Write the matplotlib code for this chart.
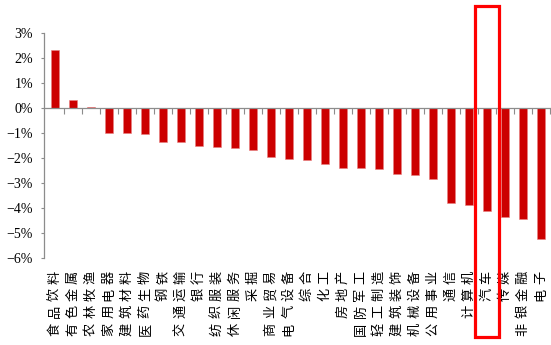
import matplotlib.pyplot as plt
import matplotlib.transforms as mtransforms
from matplotlib.patches import Rectangle
from matplotlib.ticker import FuncFormatter, FixedLocator

industries = ['食品饮料', '有色金属', '农林牧渔', '家用电器', '建筑材料', '医药生物', '钢铁',
              '交通运输', '银行', '纺织服装', '休闲服务', '采掘', '商业贸易', '电气设备',
              '综合', '化工', '房地产', '国防军工', '轻工制造', '建筑装饰', '机械设备',
              '公用事业', '通信', '计算机', '汽车', '传媒', '非银金融', '电子']
changes = [2.33, 0.32, 0.05, -0.99, -1.0, -1.05, -1.35, -1.35, -1.5, -1.57, -1.61, -1.67,
           -1.97, -2.03, -2.08, -2.23, -2.39, -2.39, -2.43, -2.63, -2.68, -2.83, -3.79,
           -3.89, -4.13, -4.35, -4.45, -5.25]
highlight = '汽车'

fig = plt.figure(figsize=(5.51, 3.45), dpi=100)
ax = fig.add_axes([44 / 551, 87 / 345, 506 / 551, 225 / 345])

x = list(range(len(industries)))
ax.bar(x, changes, width=0.45, color='#cc0000', edgecolor='#e88080', linewidth=0.4, zorder=2)

ax.set_xlim(-0.61, 27.5)
ax.set_ylim(-6, 3)

grey = '#8c8c8c'
for s in ['top', 'right']:
    ax.spines[s].set_visible(False)
ax.spines['left'].set_color(grey)
ax.spines['bottom'].set_color(grey)
ax.spines['left'].set_linewidth(0.9)
ax.spines['bottom'].set_linewidth(0.9)
ax.spines['bottom'].set_position(('data', 0))

ax.yaxis.set_major_locator(FixedLocator(range(-6, 4)))
ax.yaxis.set_major_formatter(FuncFormatter(lambda v, p: f'{int(v)}%'.replace('-', '\u2212')))
ax.tick_params(axis='y', direction='out', length=2.5, width=0.8, color=grey, pad=5.5,
               labelsize=10)
for lab in ax.get_yticklabels():
    lab.set_family('Liberation Serif')

ax.xaxis.set_major_locator(FixedLocator([i + 0.5 for i in x]))
ax.tick_params(axis='x', direction='out', length=4, width=0.8, color=grey, labelbottom=False)

# vertical category labels, characters placed one by one
base = mtransforms.blended_transform_factory(ax.transData, ax.transAxes)
for i, name in enumerate(industries):
    for k, ch in enumerate(reversed(name)):
        tr = mtransforms.offset_copy(base, fig=fig, x=0, y=-(19 + 17.3 * k) * 0.72, units='points')
        ax.text(i, 0, ch, transform=tr, rotation=90, ha='center', va='center',
                fontsize=9.5, family=['Noto Sans CJK SC', 'DejaVu Sans'], clip_on=False)

# highlight box
hi = industries.index(highlight)
box_tr = mtransforms.blended_transform_factory(ax.transData, fig.transFigure)
ax.add_patch(Rectangle((hi - 0.69, 8 / 345), 1.38, 331 / 345,
                       transform=box_tr, fill=False, edgecolor='#ff0000', linewidth=2.3,
                       clip_on=False, zorder=5))

fig.savefig('out.png', dpi=100)
